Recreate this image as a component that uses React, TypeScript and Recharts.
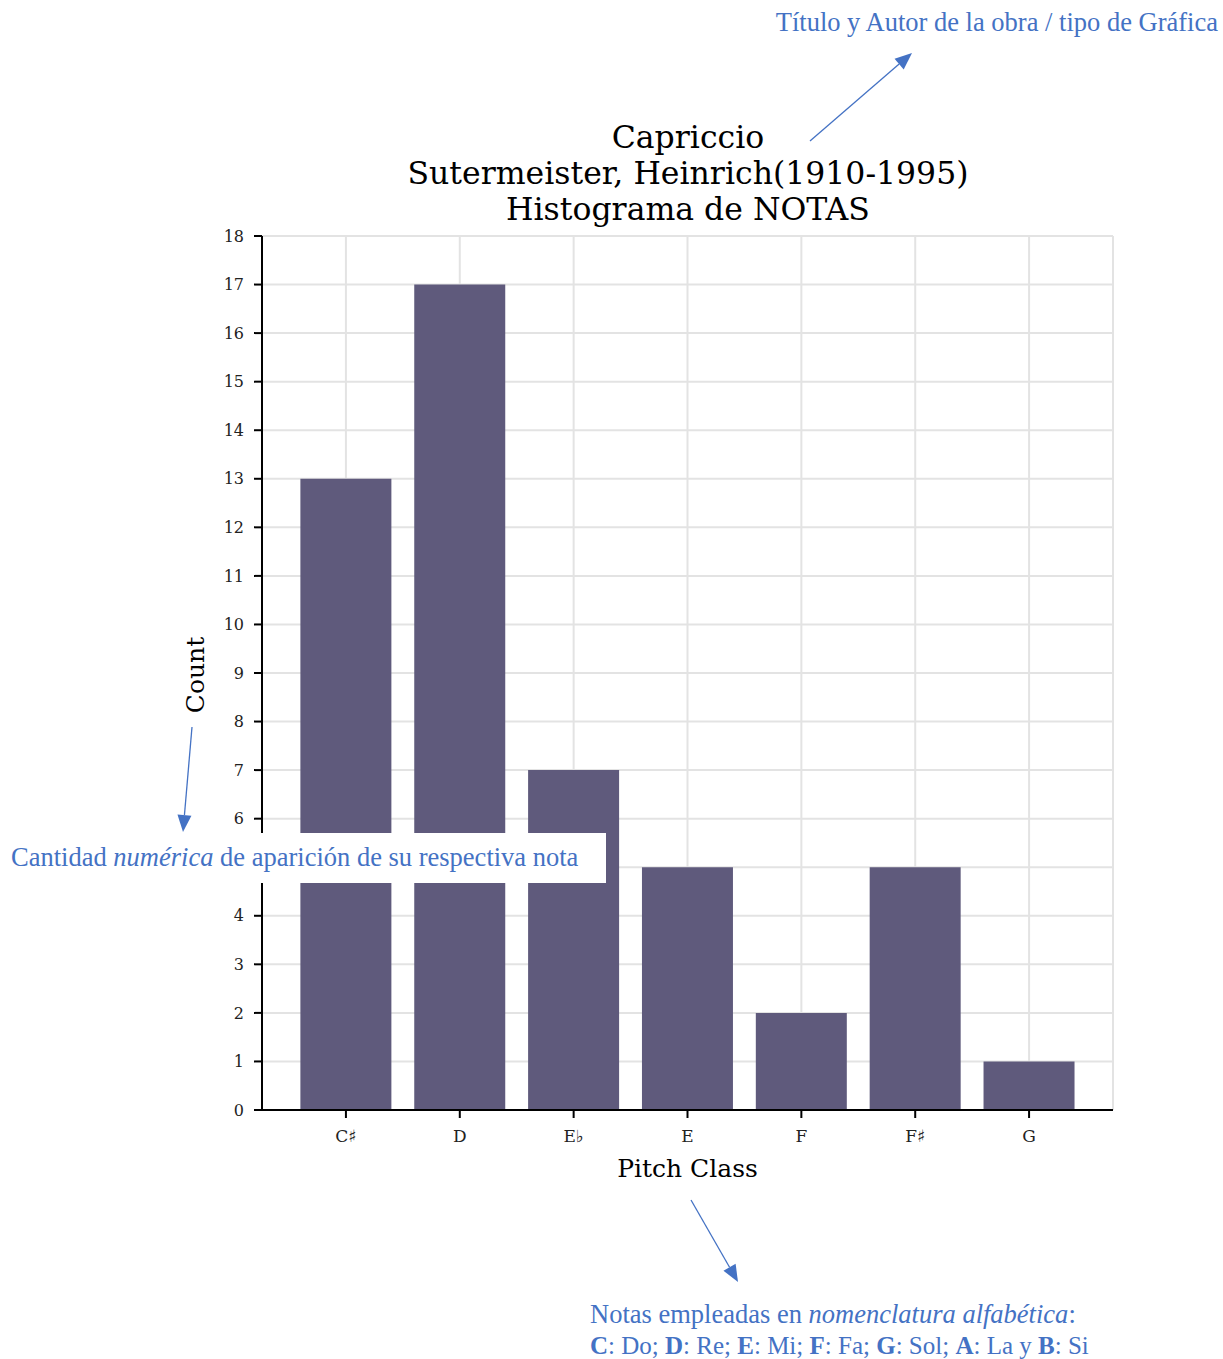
import React from "react";
import {
  Bar,
  BarChart,
  CartesianGrid,
  XAxis,
  YAxis,
} from "recharts";

const pitchClasses = ["C♯", "D", "E♭", "E", "F", "F♯", "G"];
const counts = [13, 17, 7, 5, 2, 5, 1];
const yTicks = [0, 1, 2, 3, 4, 5, 6, 7, 8, 9, 10, 11, 12, 13, 14, 15, 16, 17, 18];
const titleLines = [
  "Capriccio",
  "Sutermeister, Heinrich(1910-1995)",
  "Histograma de NOTAS",
];

const data = pitchClasses.map((name, i) => ({ name, count: counts[i] }));

const BLUE = "#4472C4";
const serif = "'DejaVu Serif', serif";
const noteFont = "'Liberation Serif', serif";
const noteSize = 26.5;

function Arrow({ x1, y1, x2, y2 }: { x1: number; y1: number; x2: number; y2: number }) {
  const a = Math.atan2(y2 - y1, x2 - x1);
  const len = 17;
  const w = 7;
  const bx = x2 - len * Math.cos(a);
  const by = y2 - len * Math.sin(a);
  const p1 = `${bx + w * Math.sin(a)},${by - w * Math.cos(a)}`;
  const p2 = `${bx - w * Math.sin(a)},${by + w * Math.cos(a)}`;
  return (
    <g>
      <line x1={x1} y1={y1} x2={bx} y2={by} stroke={BLUE} strokeWidth={1.3} />
      <polygon points={`${x2},${y2} ${p1} ${p2}`} fill={BLUE} />
    </g>
  );
}

export default function App() {
  return (
    <div
      style={{
        position: "absolute",
        left: 0,
        top: 0,
        width: 1223,
        height: 1359,
        background: "#fff",
      }}
    >
      <BarChart
        width={1223}
        height={1359}
        data={data}
        margin={{ top: 236, right: 110, bottom: 219, left: 202 }}
        barCategoryGap="10%"
      >
        <CartesianGrid stroke="#e3e3e3" strokeWidth={2} />
        <XAxis
          dataKey="name"
          height={30}
          padding={{ left: 27, right: 27 }}
          stroke="#000"
          tickSize={8}
          tickMargin={12}
          tickLine={{ stroke: "#000", strokeWidth: 2 }}
          axisLine={{ stroke: "#000", strokeWidth: 2 }}
          tick={{ fill: "#222", fontSize: 17, fontFamily: serif }}
          interval={0}
          label={{
            value: "Pitch Class",
            position: "bottom",
            offset: 19,
            fill: "#000",
            fontSize: 25,
            fontFamily: serif,
          }}
        />
        <YAxis
          width={60}
          domain={[0, 18]}
          ticks={yTicks}
          interval={0}
          tickSize={8}
          tickMargin={10}
          tickLine={{ stroke: "#000", strokeWidth: 2 }}
          axisLine={{ stroke: "#000", strokeWidth: 2 }}
          tick={{ fill: "#222", fontSize: 16, fontFamily: serif }}
        />
        <Bar dataKey="count" fill="#5f5a7c" isAnimationActive={false} />
      </BarChart>

      <svg
        width={1223}
        height={1359}
        style={{ position: "absolute", left: 0, top: 0, pointerEvents: "none" }}
      >
        {titleLines.map((t, i) => (
          <text
            key={t}
            x={688}
            y={148 + i * 36}
            textAnchor="middle"
            fontFamily={serif}
            fontSize={31.5}
            fill="#000"
          >
            {t}
          </text>
        ))}
        <text
          x={0}
          y={0}
          transform="translate(204,675) rotate(-90)"
          textAnchor="middle"
          fontFamily={serif}
          fontSize={25}
          fill="#000"
        >
          Count
        </text>

        <text x={1218} y={31} textAnchor="end" fontFamily={noteFont} fontSize={noteSize} fill={BLUE}>
          Título y Autor de la obra / tipo de Gráfica
        </text>
        <Arrow x1={810} y1={141} x2={912} y2={53} />
        <Arrow x1={192} y1={727} x2={183} y2={832} />
        <Arrow x1={691} y1={1200} x2={738} y2={1282} />

        <rect x={0} y={833} width={606} height={50} fill="#fff" />
        <text x={11} y={866} fontFamily={noteFont} fontSize={noteSize} fill={BLUE}>
          Cantidad <tspan fontStyle="italic">numérica</tspan> de aparición de su respectiva nota
        </text>

        <text x={590} y={1323} fontFamily={noteFont} fontSize={noteSize} fill={BLUE}>
          Notas empleadas en <tspan fontStyle="italic">nomenclatura alfabética</tspan>:
        </text>
        <text x={590} y={1354} fontFamily={noteFont} fontSize={25} fill={BLUE}>
          <tspan fontWeight="bold">C</tspan>: Do; <tspan fontWeight="bold">D</tspan>: Re;{" "}
          <tspan fontWeight="bold">E</tspan>: Mi; <tspan fontWeight="bold">F</tspan>: Fa;{" "}
          <tspan fontWeight="bold">G</tspan>: Sol; <tspan fontWeight="bold">A</tspan>: La y{" "}
          <tspan fontWeight="bold">B</tspan>: Si
        </text>
      </svg>
    </div>
  );
}
